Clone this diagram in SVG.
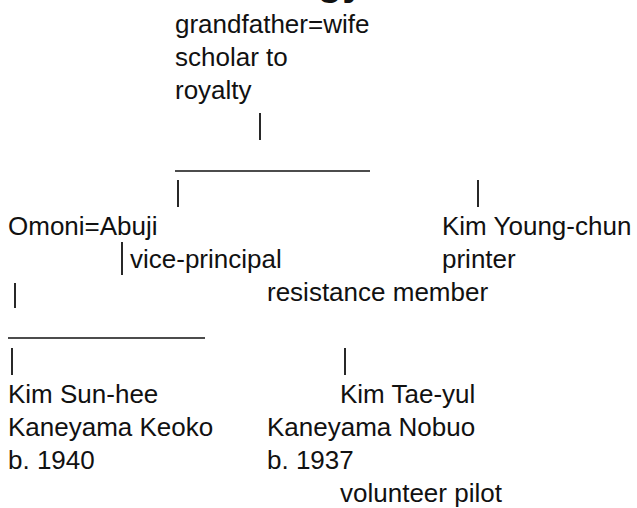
<svg xmlns="http://www.w3.org/2000/svg" width="637" height="508" viewBox="0 0 637 508">
  <style>
    text { font-family: "Liberation Sans", Arial, sans-serif; font-size: 26px; fill: #111; }
    .title { font-weight: bold; font-size: 40px; }
    .bar { stroke: #111; stroke-width: 1.8; fill: none; }
    .rule { stroke: #111; stroke-width: 1.3; fill: none; }
  </style>
  <rect width="637" height="508" fill="#ffffff"/>
  <text class="title" x="160" y="-5">Genealogy</text>
  <g id="connectors">
    <line class="bar" x1="260" y1="113" x2="260" y2="140"/>
    <line class="rule" x1="175" y1="171" x2="370" y2="171"/>
    <line class="bar" x1="178" y1="180" x2="178" y2="207"/>
    <line class="bar" x1="478" y1="180" x2="478" y2="207"/>
    <line class="bar" x1="122" y1="242" x2="122" y2="275"/>
    <line class="bar" x1="15" y1="283" x2="15" y2="308"/>
    <line class="rule" x1="8" y1="338" x2="205" y2="338"/>
    <line class="bar" x1="12" y1="348" x2="12" y2="375"/>
    <line class="bar" x1="345" y1="348" x2="345" y2="375"/>
  </g>
  <g id="grandparents">
    <text x="175" y="33">grandfather=wife</text>
    <text x="175" y="66">scholar to</text>
    <text x="175" y="99">royalty</text>
  </g>
  <g id="omoni-abuji">
    <text x="8" y="235">Omoni=Abuji</text>
    <text x="130" y="268">vice-principal</text>
    <text x="267" y="301">resistance member</text>
  </g>
  <g id="kim-young-chun">
    <text x="442" y="235">Kim Young-chun</text>
    <text x="442" y="268">printer</text>
  </g>
  <g id="kim-sun-hee">
    <text x="8" y="403">Kim Sun-hee</text>
    <text x="8" y="436">Kaneyama Keoko</text>
    <text x="8" y="469">b. 1940</text>
  </g>
  <g id="kim-tae-yul">
    <text x="340" y="403">Kim Tae-yul</text>
    <text x="267" y="436">Kaneyama Nobuo</text>
    <text x="267" y="469">b. 1937</text>
    <text x="340" y="502">volunteer pilot</text>
  </g>
</svg>
